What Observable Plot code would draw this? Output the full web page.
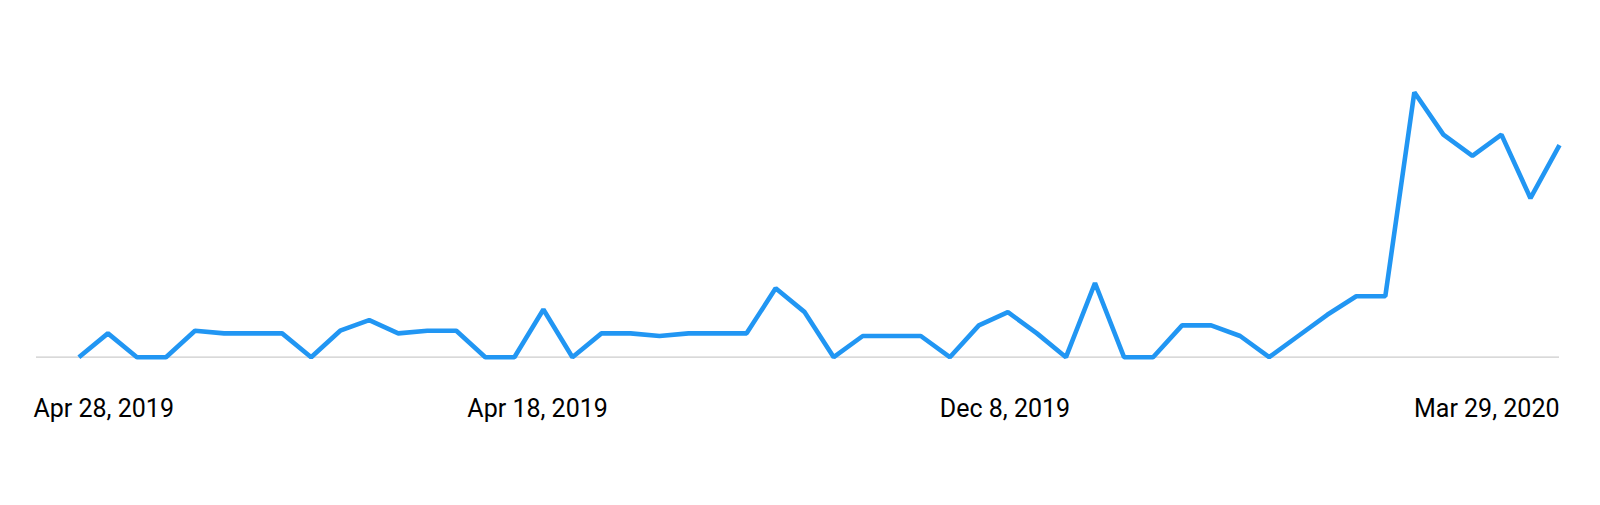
<!DOCTYPE html>
<html>
<head>
<meta charset="utf-8">
<script src="https://cdn.jsdelivr.net/npm/d3@7"></script>
<script src="https://cdn.jsdelivr.net/npm/@observablehq/plot@0.6"></script>
<style>
  html, body { margin: 0; padding: 0; background: #fff; }
  #chart svg { display: block; }
</style>
</head>
<body>
<div id="chart"></div>
<script>
// Weekly interest values (0-100), one per week, index 0..51
const weeks = d3.range(52);
const interest = [0, 9, 0, 0, 10, 9, 9, 9, 0, 10, 14, 9, 10, 10, 0, 0, 18, 0, 9, 9, 8, 9, 9, 9, 26, 17, 0, 8, 8, 8, 0, 12, 17, 9, 0, 28, 0, 0, 12, 12, 8, 0, 8, 16, 23, 23, 100, 84, 76, 84, 60, 80];

// Axis tick labels and their week positions
const tickLabels = ["Apr 28, 2019", "Apr 18, 2019", "Dec 8, 2019", "Mar 29, 2020"];
const tickWeeks = [-1.46, 15.8, 31.9, 51];

const data = weeks.map((w, i) => ({week: w, value: interest[i]}));
const labelAt = new Map(tickWeeks.map((w, i) => [w, tickLabels[i]]));

const axisStyle = {
  tickSize: 0,
  tickPadding: 42,
  fontSize: 25,
  label: null,
  tickFormat: (d) => labelAt.get(d),
  color: "#000"
};

const chart = Plot.plot({
  width: 1600,
  height: 505,
  marginTop: 91.7,
  marginBottom: 148.3,
  marginLeft: 36,
  marginRight: 41,
  style: {fontFamily: "Roboto, sans-serif", background: "#fff", overflow: "visible"},
  x: {domain: [tickWeeks[0], tickWeeks[3]], axis: null},
  y: {domain: [0, 100], axis: null},
  marks: [
    Plot.ruleY([0], {stroke: "#cccccc", strokeWidth: 1.2}),
    Plot.line(data, {
      x: "week",
      y: "value",
      stroke: "#2196f3",
      strokeWidth: 4.6,
      strokeLinejoin: "miter",
      strokeLinecap: "butt",
      curve: "linear"
    }),
    Plot.axisX([tickWeeks[0]], {...axisStyle, textAnchor: "start", dx: -3}),
    Plot.axisX([tickWeeks[1], tickWeeks[2]], {...axisStyle, textAnchor: "middle"}),
    Plot.axisX([tickWeeks[3]], {...axisStyle, textAnchor: "end"})
  ]
});

document.getElementById("chart").appendChild(chart);
</script>
</body>
</html>
